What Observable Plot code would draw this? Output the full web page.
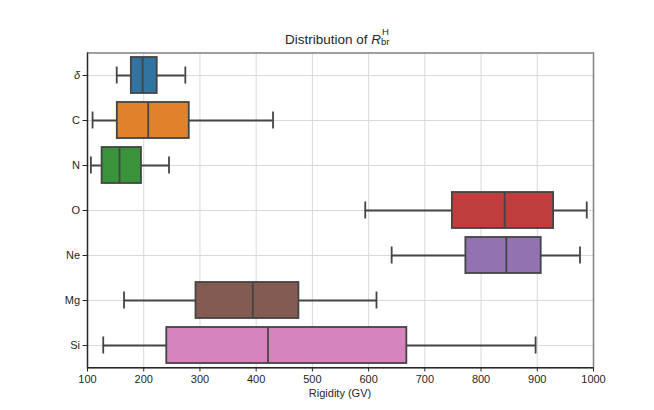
<!DOCTYPE html>
<html>
<head>
<meta charset="utf-8">
<script src="https://cdn.jsdelivr.net/npm/d3@7"></script>
<script src="https://cdn.jsdelivr.net/npm/@observablehq/plot@0.6"></script>
<style>
  html, body { margin: 0; padding: 0; background: #fff; }
  #wrap { position: relative; width: 654px; height: 410px; font-family: "Liberation Sans", Arial, sans-serif; color: #262626; }
  #title { position: absolute; left: 87px; width: 506px; top: 32px; text-align: center; font-size: 13.5px; line-height: 16px; white-space: nowrap; }
  #title .m { font-style: italic; }
  #title .ss { position: relative; display: inline-block; width: 14px; height: 12px; font-size: 9.5px; line-height: 10px; }
  #title .sup { position: absolute; left: 1px; top: -5px; }
  #title .sub { position: absolute; left: 0px; top: 5px; }
  #xlabel { position: absolute; left: 87px; width: 506px; top: 387px; text-align: center; font-size: 11px; }
  #chart { position: absolute; left: 0; top: 0; }
</style>
</head>
<body>
<div id="wrap">
  <div id="chart"></div>
  <div id="title">Distribution of <span class="m">R</span><span class="ss"><span class="sup">H</span><span class="sub">br</span></span></div>
  <div id="xlabel">Rigidity (GV)</div>
</div>
<script>
const categories = ["δ", "C", "N", "O", "Ne", "Mg", "Si"];
const whiskerLow = [152, 109, 106, 594, 641, 165, 128];
const q1 = [178, 153, 126, 749, 773, 293, 241];
const median = [198, 208, 157, 842, 845, 394, 421];
const q3 = [224, 281, 196, 929, 907, 476, 668];
const whiskerHigh = [274, 430, 245, 988, 976, 614, 897];
const colors = ["#3274a1", "#e1812c", "#3a923a", "#c03d3e", "#9372b2", "#845b53", "#d684bd"];
const xTicks = [100, 200, 300, 400, 500, 600, 700, 800, 900, 1000];

const data = categories.map((c, i) => ({
  cat: c, lo: whiskerLow[i], q1: q1[i], med: median[i], q3: q3[i], hi: whiskerHigh[i], color: colors[i]
}));

const edge = "#444444";
const lw = 1.8;

const plot = Plot.plot({
  width: 654,
  height: 410,
  marginLeft: 87,
  marginRight: 61,
  marginTop: 52.5,
  marginBottom: 42.5,
  style: { fontFamily: "Liberation Sans, Arial, sans-serif", fontSize: "11px", color: "#262626", background: "#fff" },
  x: { domain: [100, 1000], ticks: xTicks },
  y: { type: "band", domain: categories, paddingInner: 0.2, paddingOuter: 0.1 },
  marks: [
    Plot.ruleX(xTicks, { stroke: "#d9d9d9", strokeWidth: 1 }),
    Plot.ruleY(categories, { stroke: "#d9d9d9", strokeWidth: 1 }),
    Plot.frame({ stroke: "#808080", strokeWidth: 1.5 }),
    Plot.ruleX([100], { stroke: "#262626", strokeWidth: 1.25 }),
    Plot.ruleY(data, { y: "cat", x1: "lo", x2: "hi", stroke: edge, strokeWidth: lw }),
    Plot.barX(data, { y: "cat", x1: "q1", x2: "q3", fill: "color", stroke: edge, strokeWidth: lw }),
    Plot.tickX(data, { y: "cat", x: "med", stroke: edge, strokeWidth: lw }),
    Plot.tickX(data, { y: "cat", x: "lo", stroke: edge, strokeWidth: lw, insetTop: 9.5, insetBottom: 9.5 }),
    Plot.tickX(data, { y: "cat", x: "hi", stroke: edge, strokeWidth: lw, insetTop: 9.5, insetBottom: 9.5 }),
    Plot.axisX({ ticks: xTicks, tickFormat: d => String(d), tickSize: 4, tickPadding: 3, label: null, stroke: "#262626", fill: "#262626" }),
    Plot.axisY({ tickSize: 4.5, tickPadding: 3, label: null, stroke: "#262626", fill: "#262626" })
  ]
});

document.getElementById("chart").appendChild(plot);

// bottom spine
const svg = d3.select(plot);
svg.append("line")
  .attr("x1", 87).attr("x2", 593)
  .attr("y1", 367.5).attr("y2", 367.5)
  .attr("stroke", "#262626").attr("stroke-width", 1.25);

// italic delta label
svg.selectAll("text").filter(function () { return this.textContent === "δ"; })
  .style("font-style", "italic");
</script>
</body>
</html>
